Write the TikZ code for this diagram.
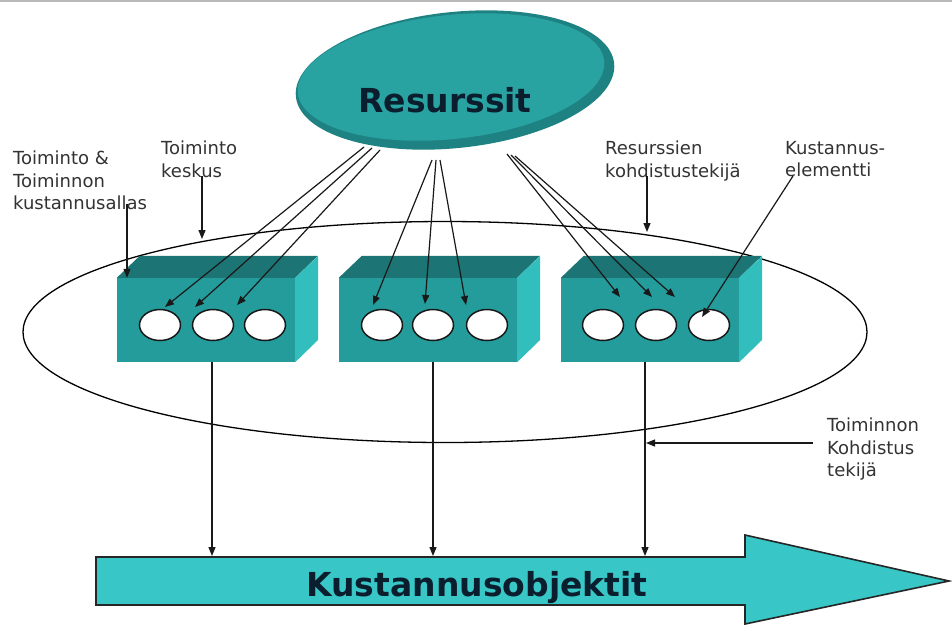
\documentclass[tikz,border=0pt]{standalone}
\usepackage{fontspec}
\setmainfont{DejaVu Sans}
\usetikzlibrary{arrows.meta,shapes.geometric,calc}

\definecolor{rimteal}{HTML}{1E8282}
\definecolor{faceteal}{HTML}{29A2A2}
\definecolor{frontteal}{HTML}{249C9C}
\definecolor{topteal}{HTML}{1C7474}
\definecolor{sideteal}{HTML}{33BEBE}
\definecolor{arrowcyan}{HTML}{38C6C6}
\definecolor{labelgray}{HTML}{333333}
\definecolor{titleink}{HTML}{0B1E2E}

\tikzset{
  tip/.style={-{Triangle[length=9pt,width=7pt]}, line width=1.2pt, draw=black!90},
  lbl/.style={anchor=north west, inner sep=0pt, align=left, text=labelgray,
              font=\fontsize{18}{22.5}\selectfont},
  hole/.style={ellipse, draw=black!90, line width=1.5pt, fill=white,
               minimum width=41pt, minimum height=31pt, inner sep=0pt},
  frontface/.style={rectangle, fill=frontteal, minimum width=178pt,
                    minimum height=84pt, inner sep=0pt},
  title/.style={inner sep=0pt, text=titleink, font=\fontsize{33}{36}\selectfont\bfseries},
}

% top and right faces of a block, built on its front face node
\newcommand\blockfaces[1]{%
  \fill[topteal] (#1.north west) -- ++(23,-22) -- ++(178,0) -- (#1.north east) -- cycle;
  \fill[sideteal] (#1.north east) -- ++(23,-22) -- ++(0,84) -- (#1.south east) -- cycle;
}

\begin{document}
\begin{tikzpicture}[x=1pt,y=-1pt]
\useasboundingbox (0,0) rectangle (952,625);
\fill[white] (0,0) rectangle (952,625);
\draw[black!28, line width=1.5pt] (0,0.75) -- (952,0.75);

% resources blob
\fill[rimteal, rotate around={6:(455,80)}] (455,80) ellipse [x radius=160, y radius=68];
\fill[faceteal, rotate around={6:(451,77)}] (451,77) ellipse [x radius=154, y radius=62];
\node[title, anchor=base] (res) at (445,112) {Resurssit};

% activity ring
\node[ellipse, draw=black, line width=1.3pt, minimum width=844pt, minimum height=221pt,
      inner sep=0pt] (ring) at (445,332) {};

% activity blocks
\node[frontface] (b1) at (206,320) {};
\node[frontface] (b2) at (428,320) {};
\node[frontface] (b3) at (650,320) {};
\blockfaces{b1}
\blockfaces{b2}
\blockfaces{b3}

% cost elements
\node[hole] (h11) at (160,325) {};
\node[hole] (h12) at (213,325) {};
\node[hole] (h13) at (265,325) {};
\node[hole] (h21) at (382,325) {};
\node[hole] (h22) at (433,325) {};
\node[hole] (h23) at (487,325) {};
\node[hole] (h31) at (603,325) {};
\node[hole] (h32) at (656,325) {};
\node[hole] (h33) at (709,325) {};

% cost objects arrow
\draw[fill=arrowcyan, line width=1.6pt, line join=miter, draw=black!85]
  (96,557) -- (745,557) -- (745,535) -- (949,581) -- (745,624) -- (745,605) -- (96,605) -- cycle;
\node[title, anchor=base] (obj) at (477,596) {Kustannusobjektit};

% resource driver arrows
\coordinate (s11) at (364,147); \coordinate (t11) at (165,307);
\coordinate (s12) at (372,148); \coordinate (t12) at (195,307);
\coordinate (s13) at (380,150); \coordinate (t13) at (237,305);
\coordinate (s21) at (432,160); \coordinate (t21) at (373,305);
\coordinate (s22) at (436,160); \coordinate (t22) at (425,304);
\coordinate (s23) at (440,160); \coordinate (t23) at (466,305);
\coordinate (s31) at (507,154); \coordinate (t31) at (620,297);
\coordinate (s32) at (511,155); \coordinate (t32) at (652,297);
\coordinate (s33) at (515,156); \coordinate (t33) at (675,297);
\foreach \g in {1,2,3}{
  \foreach \k in {1,2,3}{
    \draw[tip] (s\g\k) -- (t\g\k);
  }
}

% activity driver lines to cost objects
\coordinate (o1) at (212,556);
\coordinate (o2) at (433,556);
\coordinate (o3) at (645,556);
\draw[tip] (b1.south -| o1) -- (o1);
\draw[tip] (b2.south -| o2) -- (o2);
\draw[tip] (b3.south -| o3) -- (o3);

% labels
\node[lbl] (la) at (13,151) {Toiminto \&\\Toiminnon\\kustannusallas};
\node[lbl] (lb) at (161,141) {Toiminto\\keskus};
\node[lbl] (lc) at (605,141) {Resurssien\\kohdistustekijä};
\node[lbl] (ld) at (785,141) {Kustannus-\\elementti};
\node[lbl] (le) at (827,418) {Toiminnon\\Kohdistus\\tekijä};

% label pointers
\coordinate (pa) at (127,204);
\draw[tip] (pa) -- (pa |- b1.north);
\coordinate (pb) at (202,176); \coordinate (qb) at (202,239);
\draw[tip] (pb) -- (qb);
\coordinate (pc) at (647,176); \coordinate (qc) at (647,232);
\draw[tip] (pc) -- (qc);
\coordinate (pd) at (793,176); \coordinate (qd) at (702,317);
\draw[tip] (pd) -- (qd);
\coordinate (pe) at (813,443); \coordinate (qe) at (646,443);
\draw[tip] (pe) -- (qe);
\end{tikzpicture}
\end{document}
